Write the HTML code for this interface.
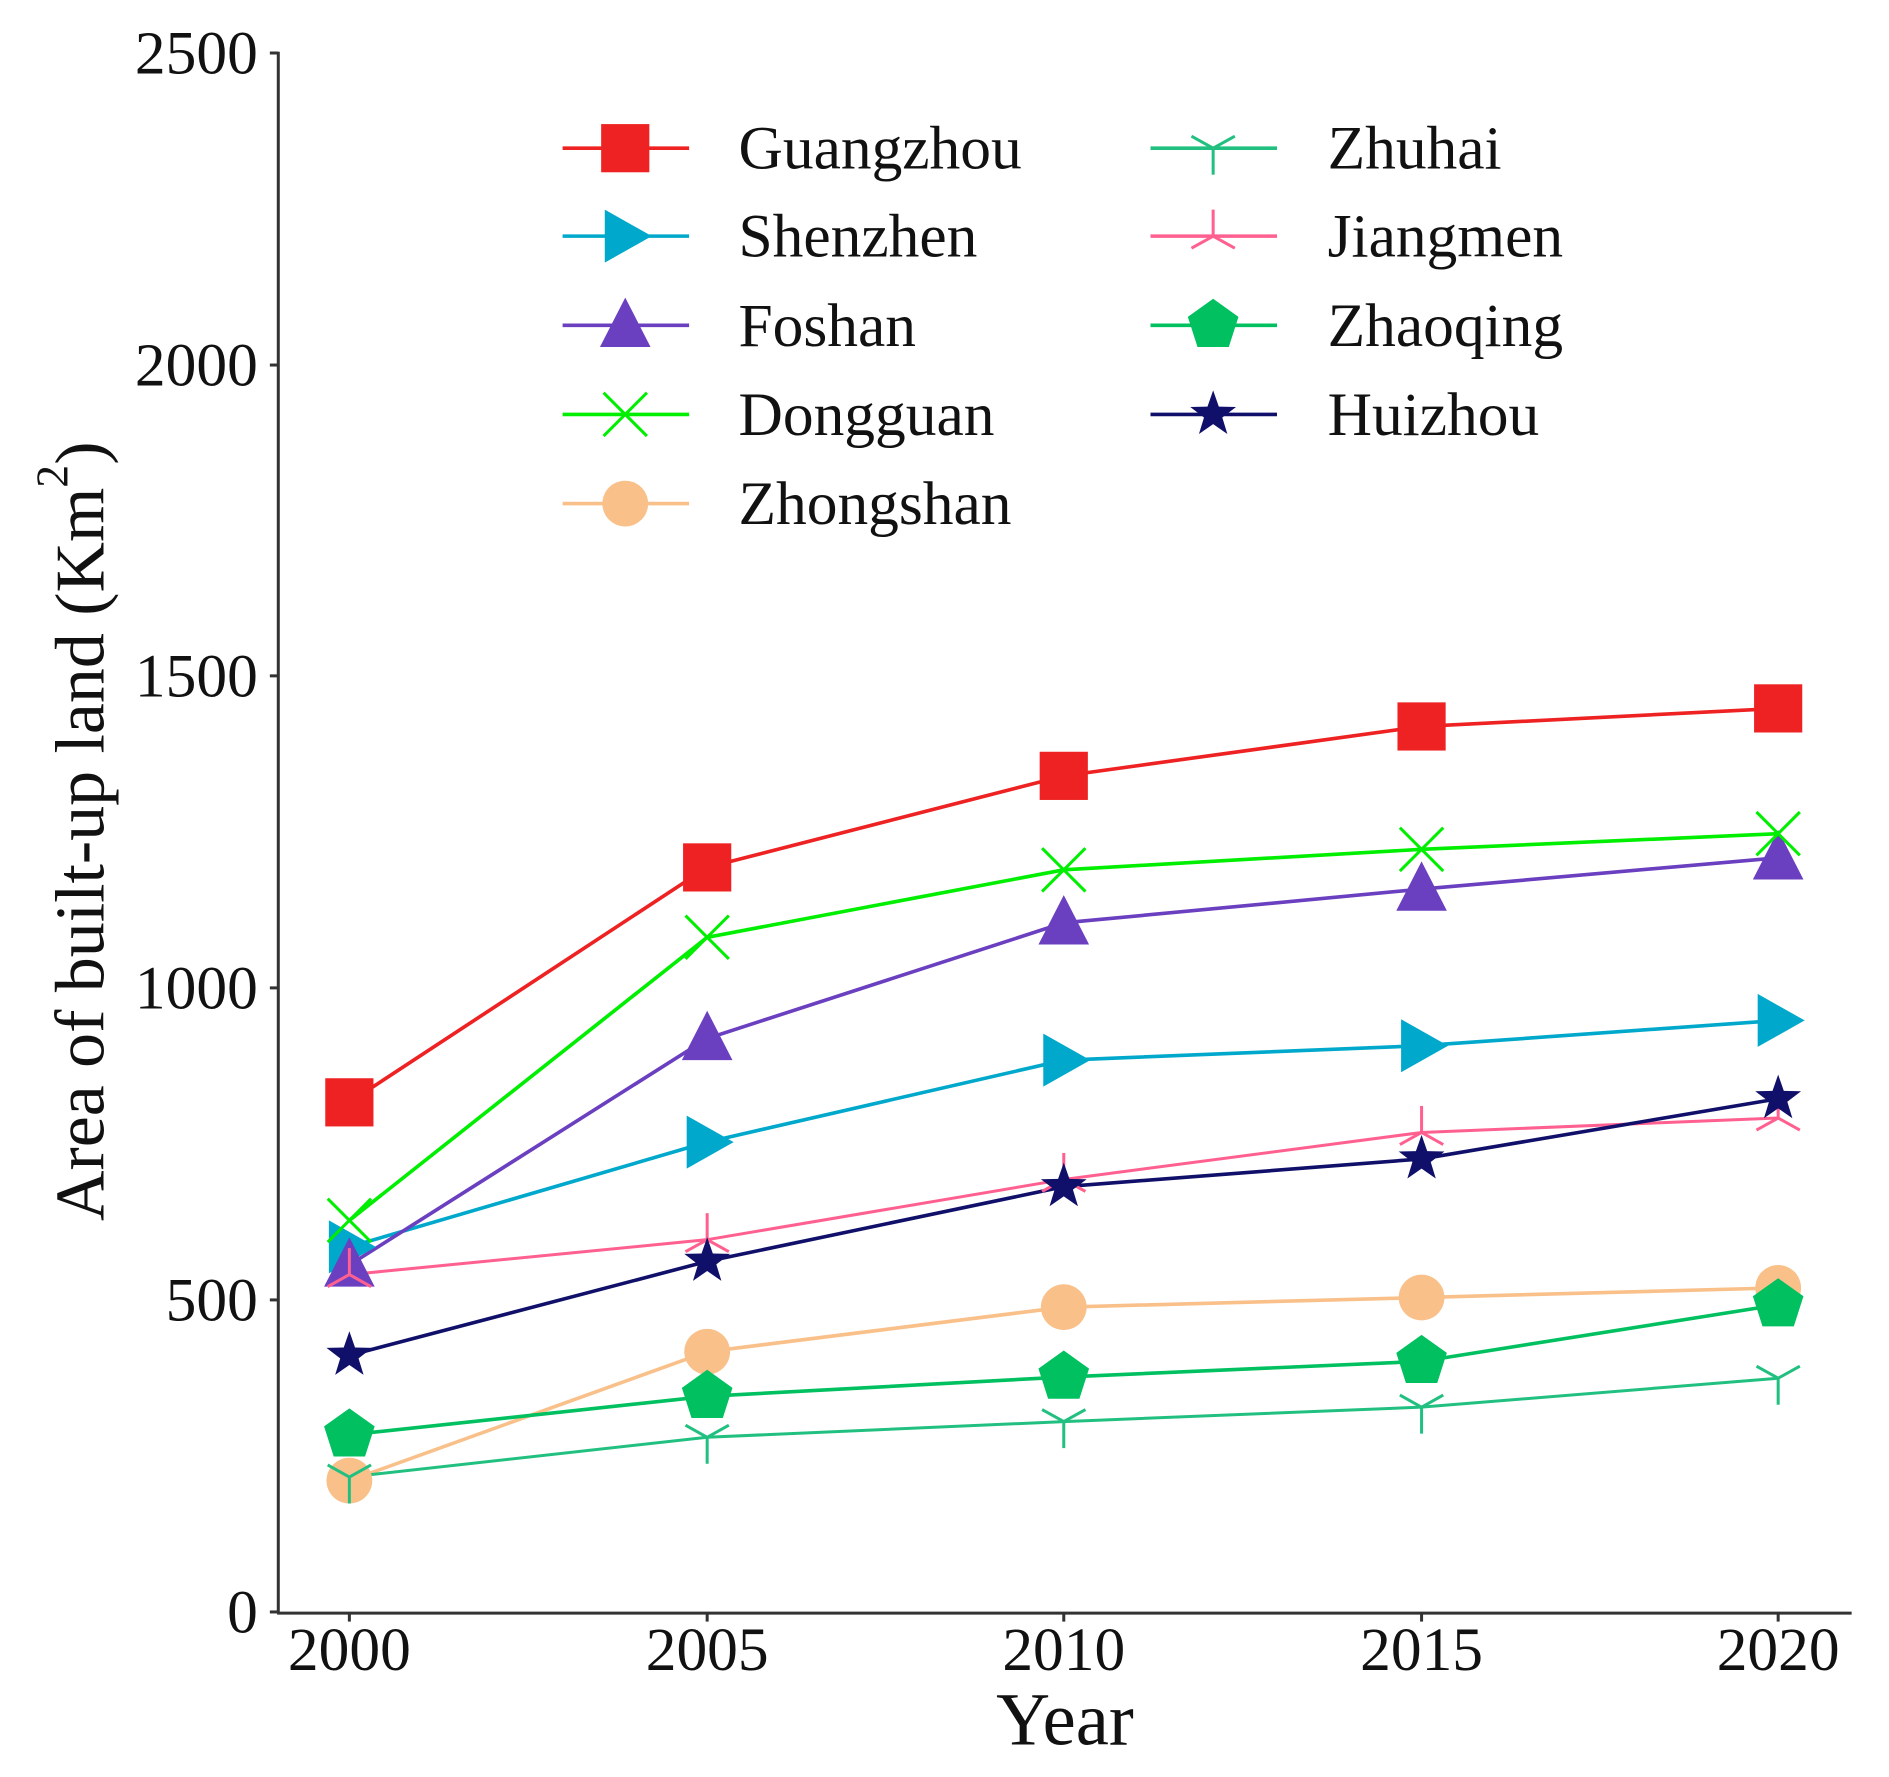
<!DOCTYPE html>
<html><head><meta charset="utf-8"><style>html,body{margin:0;padding:0;background:#fff}svg{display:block}</style></head>
<body>
<svg width="1889" height="1777" viewBox="0 0 1568 1475" preserveAspectRatio="none" xmlns="http://www.w3.org/2000/svg" font-family="Liberation Serif, serif">
<defs>
<rect id="sq" x="-20" y="-20" width="40" height="40"/>
<polygon id="tr" points="-17,-22 22,0 -17,22"/>
<polygon id="tu" points="0,-23 21,18 -21,18"/>
<g id="xx"><line x1="-18" y1="-18" x2="18" y2="18"/><line x1="-18" y1="18" x2="18" y2="-18"/></g>
<circle id="ci" r="19"/>
<polygon id="pe" points="0,-22 21,-7 13,18 -13,18 -21,-7"/>
<polygon id="st" points="0,-20 4.7,-6.5 19,-6.2 7.6,2.5 11.8,16.2 0,8 -11.8,16.2 -7.6,2.5 -19,-6.2 -4.7,-6.5"/>
<g id="td"><line x1="0" y1="0" x2="0" y2="22"/><line x1="0" y1="0" x2="-18" y2="-10"/><line x1="0" y1="0" x2="18" y2="-10"/></g>
<g id="tup"><line x1="0" y1="0" x2="0" y2="-22"/><line x1="0" y1="0" x2="-18" y2="10"/><line x1="0" y1="0" x2="18" y2="10"/></g>
</defs>
<g stroke="#333" stroke-width="2.5" fill="none">
<line x1="231" y1="43" x2="231" y2="1339"/>
<line x1="230" y1="1339" x2="1537" y2="1339"/>
<line x1="224" y1="44" x2="231" y2="44"/><line x1="224" y1="303" x2="231" y2="303"/><line x1="224" y1="561" x2="231" y2="561"/><line x1="224" y1="820" x2="231" y2="820"/><line x1="224" y1="1079" x2="231" y2="1079"/><line x1="224" y1="1338" x2="231" y2="1338"/>
<line x1="290" y1="1339" x2="290" y2="1346"/><line x1="587" y1="1339" x2="587" y2="1346"/><line x1="883" y1="1339" x2="883" y2="1346"/><line x1="1180" y1="1339" x2="1180" y2="1346"/><line x1="1476" y1="1339" x2="1476" y2="1346"/>
</g>
<g font-size="51" fill="#111" text-anchor="end">
<text x="214" y="61">2500</text><text x="214" y="320">2000</text><text x="214" y="578">1500</text><text x="214" y="837">1000</text><text x="214" y="1096">500</text><text x="214" y="1355">0</text>
</g>
<g font-size="51" fill="#111" text-anchor="middle">
<text x="290" y="1386">2000</text><text x="587" y="1386">2005</text><text x="883" y="1386">2010</text><text x="1180" y="1386">2015</text><text x="1476" y="1386">2020</text>
</g>
<text x="884" y="1448" font-size="62" text-anchor="middle" fill="#111">Year</text>
<text transform="translate(86,690) rotate(-90)" font-size="58" text-anchor="middle" fill="#111">Area of built-up land (Km<tspan dy="-30" font-size="38">2</tspan><tspan dy="30">)</tspan></text>

<g stroke-width="3" fill="none">
<polyline stroke="#ee2222" points="290,915 587,720 883,644 1180,603 1476,588"/>
<polyline stroke="#00a8cc" points="290,1035 587,948 883,880 1180,868 1476,847"/>
<polyline stroke="#6a3fc0" points="290,1050 587,862 883,766 1180,738 1476,712"/>
<polyline stroke="#00ee00" points="290,1013 587,778 883,722 1180,705 1476,692"/>
<polyline stroke="#f9c08a" points="290,1229 587,1122 883,1085 1180,1077 1476,1069"/>
<polyline stroke="#22c080" stroke-width="2.5" points="290,1226 587,1193 883,1180 1180,1168 1476,1144"/>
<polyline stroke="#ff6090" stroke-width="2.5" points="290,1058 587,1029 883,979 1180,940 1476,928"/>
<polyline stroke="#00c060" points="290,1191 587,1159 883,1143 1180,1130 1476,1083"/>
<polyline stroke="#10106a" points="290,1125 587,1047 883,985 1180,962 1476,912"/>
</g>
<g fill="#ee2222"><use href="#sq" x="290" y="915"/><use href="#sq" x="587" y="720"/><use href="#sq" x="883" y="644"/><use href="#sq" x="1180" y="603"/><use href="#sq" x="1476" y="588"/></g>
<g fill="#00a8cc"><use href="#tr" x="290" y="1035"/><use href="#tr" x="587" y="948"/><use href="#tr" x="883" y="880"/><use href="#tr" x="1180" y="868"/><use href="#tr" x="1476" y="847"/></g>
<g fill="#6a3fc0"><use href="#tu" x="290" y="1050"/><use href="#tu" x="587" y="862"/><use href="#tu" x="883" y="766"/><use href="#tu" x="1180" y="738"/><use href="#tu" x="1476" y="712"/></g>
<g stroke="#00ee00" stroke-width="2.5"><use href="#xx" x="290" y="1013"/><use href="#xx" x="587" y="778"/><use href="#xx" x="883" y="722"/><use href="#xx" x="1180" y="705"/><use href="#xx" x="1476" y="692"/></g>
<g fill="#f9c08a"><use href="#ci" x="290" y="1229"/><use href="#ci" x="587" y="1122"/><use href="#ci" x="883" y="1085"/><use href="#ci" x="1180" y="1077"/><use href="#ci" x="1476" y="1069"/></g>
<g stroke="#22c080" stroke-width="2.5"><use href="#td" x="290" y="1226"/><use href="#td" x="587" y="1193"/><use href="#td" x="883" y="1180"/><use href="#td" x="1180" y="1168"/><use href="#td" x="1476" y="1144"/></g>
<g stroke="#ff6090" stroke-width="2.5"><use href="#tup" x="290" y="1058"/><use href="#tup" x="587" y="1029"/><use href="#tup" x="883" y="979"/><use href="#tup" x="1180" y="940"/><use href="#tup" x="1476" y="928"/></g>
<g fill="#00c060"><use href="#pe" x="290" y="1191"/><use href="#pe" x="587" y="1159"/><use href="#pe" x="883" y="1143"/><use href="#pe" x="1180" y="1130"/><use href="#pe" x="1476" y="1083"/></g>
<g fill="#10106a"><use href="#st" x="290" y="1125"/><use href="#st" x="587" y="1047"/><use href="#st" x="883" y="985"/><use href="#st" x="1180" y="962"/><use href="#st" x="1476" y="912"/></g>

<g stroke-width="3">
<line x1="467" y1="123" x2="572" y2="123" stroke="#ee2222"/>
<line x1="467" y1="196" x2="572" y2="196" stroke="#00a8cc"/>
<line x1="467" y1="270" x2="572" y2="270" stroke="#6a3fc0"/>
<line x1="467" y1="344" x2="572" y2="344" stroke="#00ee00"/>
<line x1="467" y1="418" x2="572" y2="418" stroke="#f9c08a"/>
<line x1="955" y1="123" x2="1060" y2="123" stroke="#22c080"/>
<line x1="955" y1="196" x2="1060" y2="196" stroke="#ff6090"/>
<line x1="955" y1="270" x2="1060" y2="270" stroke="#00c060"/>
<line x1="955" y1="344" x2="1060" y2="344" stroke="#10106a"/>
</g>
<use href="#sq" x="519" y="123" fill="#ee2222"/>
<use href="#tr" x="519" y="196" fill="#00a8cc"/>
<use href="#tu" x="519" y="270" fill="#6a3fc0"/>
<use href="#xx" x="519" y="344" stroke="#00ee00" stroke-width="2.5"/>
<use href="#ci" x="519" y="418" fill="#f9c08a"/>
<use href="#td" x="1007" y="123" stroke="#22c080" stroke-width="2.5"/>
<use href="#tup" x="1007" y="196" stroke="#ff6090" stroke-width="2.5"/>
<use href="#pe" x="1007" y="270" fill="#00c060"/>
<use href="#st" x="1007" y="344" fill="#10106a"/>
<g font-size="51" fill="#111">
<text x="613" y="140">Guangzhou</text>
<text x="613" y="213">Shenzhen</text>
<text x="613" y="287">Foshan</text>
<text x="613" y="361">Dongguan</text>
<text x="613" y="435">Zhongshan</text>
<text x="1102" y="140">Zhuhai</text>
<text x="1102" y="213">Jiangmen</text>
<text x="1102" y="287">Zhaoqing</text>
<text x="1102" y="361">Huizhou</text>
</g>
</svg>
</body></html>
